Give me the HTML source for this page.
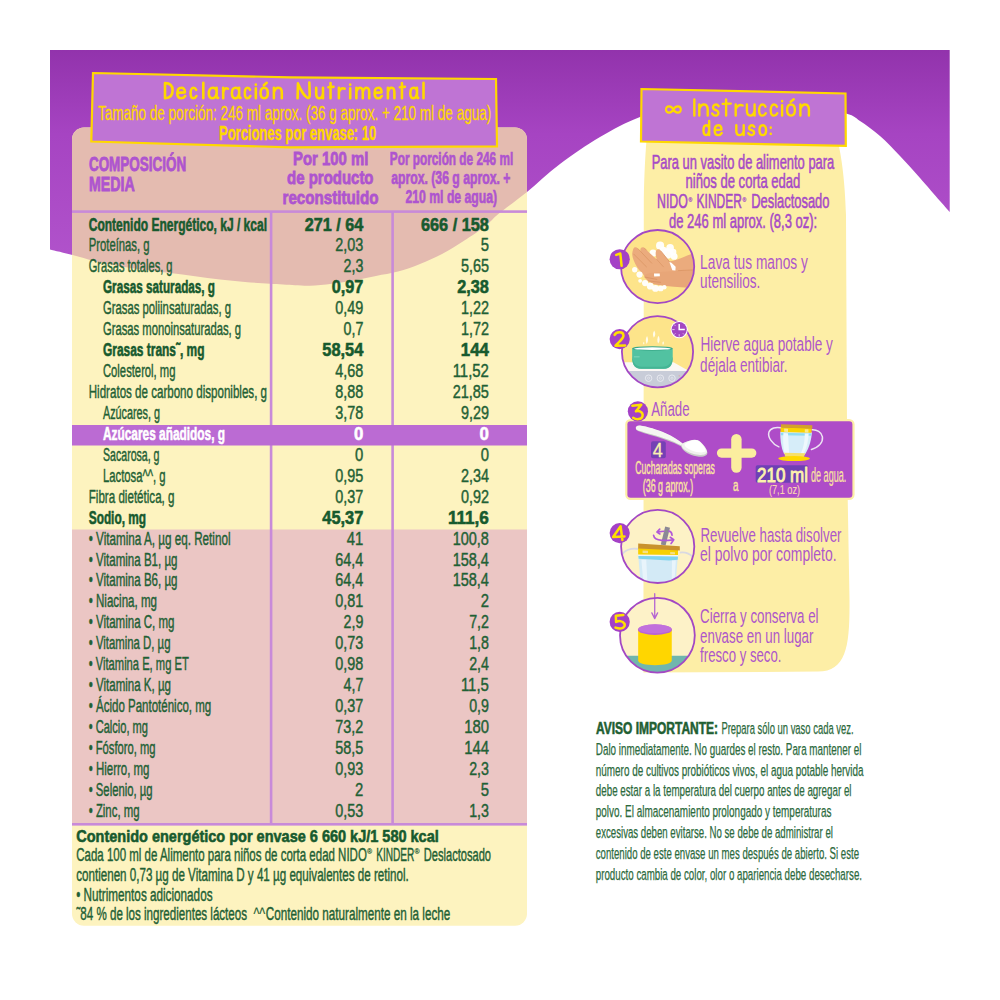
<!DOCTYPE html>
<html><head><meta charset="utf-8"><title>Declaración Nutrimental</title>
<style>html,body{margin:0;padding:0;background:#fff}svg{display:block}</style></head>
<body>
<svg width="1000" height="1000" viewBox="0 0 1000 1000" font-family='"Liberation Sans", sans-serif'>
<defs>
<linearGradient id="gp" gradientUnits="userSpaceOnUse" x1="0" y1="50" x2="0" y2="290"><stop offset="0" stop-color="#9233ac"/><stop offset="0.35" stop-color="#a644c2"/><stop offset="1" stop-color="#b356cd"/></linearGradient>
<clipPath id="cpL"><rect x="72" y="127.5" width="455" height="798.3" rx="12" ry="12"/></clipPath>
</defs>
<rect width="1000" height="1000" fill="#fff"/>
<path d="M50,50 L50,249.5 C53.8,250.4 65.0,253.1 72.5,255.0 C80.0,256.9 87.1,259.3 95.0,261.2 C102.9,263.1 111.7,264.7 120.0,266.2 C128.3,267.7 136.7,268.9 145.0,270.0 C153.3,271.1 161.7,272.0 170.0,273.0 C178.3,274.0 186.7,275.1 195.0,276.2 C203.3,277.3 211.7,278.5 220.0,279.5 C228.3,280.5 236.7,281.3 245.0,282.0 C253.3,282.7 261.7,283.3 270.0,283.8 C278.3,284.3 288.3,284.9 295.0,285.2 C301.7,285.5 303.8,285.9 310.0,285.7 C316.2,285.4 324.7,284.6 332.0,283.7 C339.3,282.8 346.7,281.7 354.0,280.4 C361.3,279.1 368.7,277.5 376.0,276.0 C383.3,274.5 390.7,273.6 398.0,271.6 C405.3,269.6 412.7,266.8 420.0,263.9 C427.3,261.0 434.7,257.9 442.0,254.0 C449.3,250.2 456.7,245.6 464.0,240.8 C471.3,236.0 480.1,230.0 486.0,225.4 C491.9,220.8 492.4,218.9 499.2,213.3 C506.0,207.7 516.9,200.2 527.0,192.0 C537.1,183.8 547.8,173.2 560.0,164.0 C572.2,154.8 586.7,144.8 600.0,137.0 C613.3,129.2 625.0,122.7 640.0,117.0 C655.0,111.3 672.5,106.0 690.0,103.0 C707.5,100.0 726.7,98.9 745.0,99.0 C763.3,99.1 783.2,101.1 800.0,103.5 C816.8,105.9 836.0,110.7 846.0,113.6 C856.0,116.5 854.3,117.3 860.0,121.0 C865.7,124.7 873.3,130.2 880.0,136.0 C886.7,141.8 893.3,149.0 900.0,156.0 C906.7,163.0 913.3,170.5 920.0,178.0 C926.7,185.5 935.0,195.3 940.0,201.0 C945.0,206.7 948.1,210.2 949.7,212.0 L949.7,50 Z" fill="url(#gp)"/>

<rect x="72" y="127.5" width="455" height="798.3" rx="12" ry="12" fill="#fdf3bf"/>
<g clip-path="url(#cpL)"><path d="M50,50 L50,249.5 C53.8,250.4 65.0,253.1 72.5,255.0 C80.0,256.9 87.1,259.3 95.0,261.2 C102.9,263.1 111.7,264.7 120.0,266.2 C128.3,267.7 136.7,268.9 145.0,270.0 C153.3,271.1 161.7,272.0 170.0,273.0 C178.3,274.0 186.7,275.1 195.0,276.2 C203.3,277.3 211.7,278.5 220.0,279.5 C228.3,280.5 236.7,281.3 245.0,282.0 C253.3,282.7 261.7,283.3 270.0,283.8 C278.3,284.3 288.3,284.9 295.0,285.2 C301.7,285.5 303.8,285.9 310.0,285.7 C316.2,285.4 324.7,284.6 332.0,283.7 C339.3,282.8 346.7,281.7 354.0,280.4 C361.3,279.1 368.7,277.5 376.0,276.0 C383.3,274.5 390.7,273.6 398.0,271.6 C405.3,269.6 412.7,266.8 420.0,263.9 C427.3,261.0 434.7,257.9 442.0,254.0 C449.3,250.2 456.7,245.6 464.0,240.8 C471.3,236.0 480.1,230.0 486.0,225.4 C491.9,220.8 492.4,218.9 499.2,213.3 C506.0,207.7 516.9,200.2 527.0,192.0 C537.1,183.8 547.8,173.2 560.0,164.0 C572.2,154.8 586.7,144.8 600.0,137.0 C613.3,129.2 625.0,122.7 640.0,117.0 C655.0,111.3 672.5,106.0 690.0,103.0 C707.5,100.0 726.7,98.9 745.0,99.0 C763.3,99.1 783.2,101.1 800.0,103.5 C816.8,105.9 836.0,110.7 846.0,113.6 C856.0,116.5 854.3,117.3 860.0,121.0 C865.7,124.7 873.3,130.2 880.0,136.0 C886.7,141.8 893.3,149.0 900.0,156.0 C906.7,163.0 913.3,170.5 920.0,178.0 C926.7,185.5 935.0,195.3 940.0,201.0 C945.0,206.7 948.1,210.2 949.7,212.0 L949.7,50 Z" fill="#e4bbb0"/>
<rect x="72" y="529.5" width="455" height="294.5" fill="#ebc6c4"/>
</g>
<rect x="72" y="210.3" width="455" height="2.6" fill="#c88ad9"/>
<rect x="72" y="823" width="455" height="2.6" fill="#c88ad9"/>
<rect x="269.8" y="211" width="2.6" height="613" fill="#c88ad9"/>
<rect x="391.3" y="211" width="2.6" height="613" fill="#c88ad9"/>
<rect x="72" y="425" width="455" height="20.5" fill="#bb6bd3"/>
<path d="M93,73 L290,77.3 L496,79 L497,146.3 L290,147.3 L91.3,141.5 Z" fill="#bf74d4" stroke="#ffd800" stroke-width="2.2" stroke-linejoin="miter"/>
<path d="M165.00,83.10 L165.00,98.20 M165.00,83.10 C170.70,83.10 172.60,86.10 172.60,90.31 C172.60,95.04 170.32,98.20 165.00,98.20 M177.62,92.83 L184.88,92.36 C185.20,89.05 183.23,87.63 181.25,87.79 C178.49,87.79 177.30,90.63 177.30,93.47 C177.30,96.62 178.88,98.20 181.25,98.20 C183.23,98.20 184.41,97.25 185.20,95.99 M196.11,89.84 C195.53,88.42 194.66,87.79 193.50,87.79 C191.76,87.79 190.60,90.31 190.60,93.15 C190.60,96.31 191.76,98.20 193.50,98.20 C194.78,98.20 195.70,97.41 196.40,95.99 M203.30,82.83 L203.30,98.20 M216.61,90.31 C215.78,88.42 214.38,87.79 212.99,87.79 C210.20,87.79 208.80,90.31 208.80,93.15 C208.80,96.31 210.20,98.20 212.52,98.20 C214.57,98.20 216.05,96.31 216.61,93.47 M216.61,87.79 L216.61,96.62 C216.61,97.73 217.36,98.20 218.10,97.88 M223.20,87.79 L223.20,98.20 M223.20,92.20 C223.91,89.52 225.55,87.20 227.90,88.73 M239.12,90.31 C238.35,88.42 237.06,87.79 235.77,87.79 C233.19,87.79 231.90,90.31 231.90,93.15 C231.90,96.31 233.19,98.20 235.34,98.20 C237.23,98.20 238.61,96.31 239.12,93.47 M239.12,87.79 L239.12,96.62 C239.12,97.73 239.81,98.20 240.50,97.88 M250.03,89.84 C249.47,88.42 248.65,87.79 247.55,87.79 C245.90,87.79 244.80,90.31 244.80,93.15 C244.80,96.31 245.90,98.20 247.55,98.20 C248.76,98.20 249.64,97.41 250.30,95.99 M255.81,88.42 L255.81,98.20 M255.81,84.74 L255.81,84.47 M264.20,87.79 C261.68,87.79 260.60,90.31 260.60,92.99 C260.60,95.99 261.90,98.20 264.20,98.20 C266.50,98.20 267.80,95.99 267.80,92.99 C267.80,90.31 266.72,87.79 264.20,87.79 Z M263.84,85.28 L266.72,82.83 M273.90,87.79 L273.90,98.20 M273.90,91.89 C275.09,89.05 277.06,87.47 278.64,87.79 C281.01,88.10 281.80,90.31 281.80,92.68 L281.80,98.20" fill="none" stroke="#ffd800" stroke-width="2.6" stroke-linecap="round" stroke-linejoin="round"/>
<path d="M297.60,98.20 L297.96,83.37 C300.02,88.73 304.25,96.31 307.52,97.88 C309.10,98.52 309.70,96.62 309.70,95.04 L309.34,82.55 M316.20,87.79 L316.20,93.47 C316.20,96.62 317.56,98.20 319.26,98.20 C321.30,98.20 322.66,95.83 323.00,93.47 M323.00,87.79 L323.00,98.20 M330.54,83.10 L330.54,98.20 M328.40,87.20 L333.50,86.92 M338.90,87.79 L338.90,98.20 M338.90,92.20 C339.77,89.52 341.80,87.20 344.70,88.73 M350.20,88.42 L350.20,98.20 M350.20,84.74 L350.20,84.47 M356.40,87.79 L356.40,98.20 M356.40,91.57 C357.42,89.05 358.96,87.63 360.24,87.79 C362.16,87.94 362.80,90.31 362.80,92.68 L362.80,98.20 M362.80,91.57 C363.82,89.05 365.36,87.63 366.64,87.79 C368.56,87.94 369.20,90.31 369.20,92.68 L369.20,98.20 M374.89,92.83 L381.51,92.36 C381.80,89.05 380.00,87.63 378.20,87.79 C375.68,87.79 374.60,90.63 374.60,93.47 C374.60,96.62 376.04,98.20 378.20,98.20 C380.00,98.20 381.08,97.25 381.80,95.99 M387.90,87.79 L387.90,98.20 M387.90,91.89 C388.88,89.05 390.50,87.47 391.80,87.79 C393.75,88.10 394.40,90.31 394.40,92.68 L394.40,98.20 M401.94,83.10 L401.94,98.20 M399.80,87.20 L404.90,86.92 M416.94,90.31 C416.23,88.42 415.04,87.79 413.86,87.79 C411.49,87.79 410.30,90.31 410.30,93.15 C410.30,96.31 411.49,98.20 413.46,98.20 C415.20,98.20 416.46,96.31 416.94,93.47 M416.94,87.79 L416.94,96.62 C416.94,97.73 417.57,98.20 418.20,97.88 M423.50,82.83 L423.50,98.20" fill="none" stroke="#ffd800" stroke-width="2.6" stroke-linecap="round" stroke-linejoin="round"/>
<text x="98.00" y="119.60" font-size="20.6" fill="#ffd800" stroke="#ffd800" stroke-width="0.3" textLength="393.20" lengthAdjust="spacingAndGlyphs">Tamaño de porción: 246 ml aprox. (36 g aprox. + 210 ml de agua)</text>
<text x="219.00" y="139.70" font-size="20" fill="#ffd800" font-weight="bold" stroke="#ffd800" stroke-width="0.4" textLength="157.20" lengthAdjust="spacingAndGlyphs">Porciones por envase: 10</text>
<text x="88.90" y="171.40" font-size="19.4" fill="#ae54cf" font-weight="bold" stroke="#ae54cf" stroke-width="0.8" textLength="97.40" lengthAdjust="spacingAndGlyphs">COMPOSICIÓN</text>
<text x="88.90" y="190.80" font-size="19.4" fill="#ae54cf" font-weight="bold" stroke="#ae54cf" stroke-width="0.8" textLength="45.80" lengthAdjust="spacingAndGlyphs">MEDIA</text>
<text x="293.00" y="164.80" font-size="19.2" fill="#ae54cf" font-weight="bold" stroke="#ae54cf" stroke-width="0.8" textLength="75.30" lengthAdjust="spacingAndGlyphs">Por 100 ml</text>
<text x="287.10" y="184.10" font-size="19.2" fill="#ae54cf" font-weight="bold" stroke="#ae54cf" stroke-width="0.8" textLength="86.40" lengthAdjust="spacingAndGlyphs">de producto</text>
<text x="282.50" y="203.60" font-size="19.2" fill="#ae54cf" font-weight="bold" stroke="#ae54cf" stroke-width="0.8" textLength="96.00" lengthAdjust="spacingAndGlyphs">reconstituido</text>
<text x="389.80" y="164.70" font-size="19.2" fill="#ae54cf" font-weight="bold" stroke="#ae54cf" stroke-width="0.7" textLength="123.40" lengthAdjust="spacingAndGlyphs">Por porción de 246 ml</text>
<text x="391.20" y="184.20" font-size="19.2" fill="#ae54cf" font-weight="bold" stroke="#ae54cf" stroke-width="0.7" textLength="119.20" lengthAdjust="spacingAndGlyphs">aprox. (36 g aprox. +</text>
<text x="405.50" y="203.30" font-size="19.2" fill="#ae54cf" font-weight="bold" stroke="#ae54cf" stroke-width="0.7" textLength="91.60" lengthAdjust="spacingAndGlyphs">210 ml de agua)</text>
<text x="88.75" y="230.50" font-size="18.8" fill="#175a2e" font-weight="bold" stroke="#175a2e" stroke-width="0.6" textLength="178.25" lengthAdjust="spacingAndGlyphs">Contenido Energético, kJ / kcal</text>
<text x="304.80" y="230.50" font-size="18.8" fill="#175a2e" font-weight="bold" stroke="#175a2e" stroke-width="0.6" textLength="58.50" lengthAdjust="spacingAndGlyphs">271 / 64</text>
<text x="420.90" y="230.50" font-size="18.8" fill="#175a2e" font-weight="bold" stroke="#175a2e" stroke-width="0.6" textLength="68.00" lengthAdjust="spacingAndGlyphs">666 / 158</text>
<text x="88.75" y="251.44" font-size="18.8" fill="#1f6135" stroke="#1f6135" stroke-width="0.45" textLength="60.75" lengthAdjust="spacingAndGlyphs">Proteínas, g</text>
<text x="335.30" y="251.44" font-size="18.8" fill="#1f6135" stroke="#1f6135" stroke-width="0.45" textLength="28.00" lengthAdjust="spacingAndGlyphs">2,03</text>
<text x="480.65" y="251.44" font-size="18.8" fill="#1f6135" stroke="#1f6135" stroke-width="0.45" textLength="8.25" lengthAdjust="spacingAndGlyphs">5</text>
<text x="88.75" y="272.38" font-size="18.8" fill="#1f6135" stroke="#1f6135" stroke-width="0.45" textLength="83.75" lengthAdjust="spacingAndGlyphs">Grasas totales, g</text>
<text x="343.55" y="272.38" font-size="18.8" fill="#1f6135" stroke="#1f6135" stroke-width="0.45" textLength="19.75" lengthAdjust="spacingAndGlyphs">2,3</text>
<text x="460.90" y="272.38" font-size="18.8" fill="#1f6135" stroke="#1f6135" stroke-width="0.45" textLength="28.00" lengthAdjust="spacingAndGlyphs">5,65</text>
<text x="103.00" y="293.32" font-size="18.8" fill="#175a2e" font-weight="bold" stroke="#175a2e" stroke-width="0.6" textLength="112.00" lengthAdjust="spacingAndGlyphs">Grasas saturadas, g</text>
<text x="331.65" y="293.32" font-size="18.8" fill="#175a2e" font-weight="bold" stroke="#175a2e" stroke-width="0.6" textLength="31.65" lengthAdjust="spacingAndGlyphs">0,97</text>
<text x="457.25" y="293.32" font-size="18.8" fill="#175a2e" font-weight="bold" stroke="#175a2e" stroke-width="0.6" textLength="31.65" lengthAdjust="spacingAndGlyphs">2,38</text>
<text x="103.00" y="314.26" font-size="18.8" fill="#1f6135" stroke="#1f6135" stroke-width="0.45" textLength="128.00" lengthAdjust="spacingAndGlyphs">Grasas poliinsaturadas, g</text>
<text x="335.30" y="314.26" font-size="18.8" fill="#1f6135" stroke="#1f6135" stroke-width="0.45" textLength="28.00" lengthAdjust="spacingAndGlyphs">0,49</text>
<text x="460.90" y="314.26" font-size="18.8" fill="#1f6135" stroke="#1f6135" stroke-width="0.45" textLength="28.00" lengthAdjust="spacingAndGlyphs">1,22</text>
<text x="103.00" y="335.20" font-size="18.8" fill="#1f6135" stroke="#1f6135" stroke-width="0.45" textLength="138.00" lengthAdjust="spacingAndGlyphs">Grasas monoinsaturadas, g</text>
<text x="343.55" y="335.20" font-size="18.8" fill="#1f6135" stroke="#1f6135" stroke-width="0.45" textLength="19.75" lengthAdjust="spacingAndGlyphs">0,7</text>
<text x="460.90" y="335.20" font-size="18.8" fill="#1f6135" stroke="#1f6135" stroke-width="0.45" textLength="28.00" lengthAdjust="spacingAndGlyphs">1,72</text>
<text x="103.00" y="356.14" font-size="18.8" fill="#175a2e" font-weight="bold" stroke="#175a2e" stroke-width="0.6" textLength="101.50" lengthAdjust="spacingAndGlyphs">Grasas trans˜, mg</text>
<text x="322.30" y="356.14" font-size="18.8" fill="#175a2e" font-weight="bold" stroke="#175a2e" stroke-width="0.6" textLength="41.00" lengthAdjust="spacingAndGlyphs">58,54</text>
<text x="460.85" y="356.14" font-size="18.8" fill="#175a2e" font-weight="bold" stroke="#175a2e" stroke-width="0.6" textLength="28.05" lengthAdjust="spacingAndGlyphs">144</text>
<text x="103.00" y="377.08" font-size="18.8" fill="#1f6135" stroke="#1f6135" stroke-width="0.45" textLength="72.50" lengthAdjust="spacingAndGlyphs">Colesterol, mg</text>
<text x="335.30" y="377.08" font-size="18.8" fill="#1f6135" stroke="#1f6135" stroke-width="0.45" textLength="28.00" lengthAdjust="spacingAndGlyphs">4,68</text>
<text x="452.65" y="377.08" font-size="18.8" fill="#1f6135" stroke="#1f6135" stroke-width="0.45" textLength="36.25" lengthAdjust="spacingAndGlyphs">11,52</text>
<text x="88.75" y="398.02" font-size="18.8" fill="#1f6135" stroke="#1f6135" stroke-width="0.45" textLength="178.25" lengthAdjust="spacingAndGlyphs">Hidratos de carbono disponibles, g</text>
<text x="335.30" y="398.02" font-size="18.8" fill="#1f6135" stroke="#1f6135" stroke-width="0.45" textLength="28.00" lengthAdjust="spacingAndGlyphs">8,88</text>
<text x="452.65" y="398.02" font-size="18.8" fill="#1f6135" stroke="#1f6135" stroke-width="0.45" textLength="36.25" lengthAdjust="spacingAndGlyphs">21,85</text>
<text x="103.00" y="418.96" font-size="18.8" fill="#1f6135" stroke="#1f6135" stroke-width="0.45" textLength="57.00" lengthAdjust="spacingAndGlyphs">Azúcares, g</text>
<text x="335.30" y="418.96" font-size="18.8" fill="#1f6135" stroke="#1f6135" stroke-width="0.45" textLength="28.00" lengthAdjust="spacingAndGlyphs">3,78</text>
<text x="460.90" y="418.96" font-size="18.8" fill="#1f6135" stroke="#1f6135" stroke-width="0.45" textLength="28.00" lengthAdjust="spacingAndGlyphs">9,29</text>
<text x="103.00" y="439.90" font-size="18.8" fill="#ffffff" font-weight="bold" stroke="#ffffff" stroke-width="0.6" textLength="122.00" lengthAdjust="spacingAndGlyphs">Azúcares añadidos, g</text>
<text x="353.95" y="439.90" font-size="18.8" fill="#ffffff" font-weight="bold" stroke="#ffffff" stroke-width="0.6" textLength="9.35" lengthAdjust="spacingAndGlyphs">0</text>
<text x="479.55" y="439.90" font-size="18.8" fill="#ffffff" font-weight="bold" stroke="#ffffff" stroke-width="0.6" textLength="9.35" lengthAdjust="spacingAndGlyphs">0</text>
<text x="103.00" y="460.84" font-size="18.8" fill="#1f6135" stroke="#1f6135" stroke-width="0.45" textLength="56.50" lengthAdjust="spacingAndGlyphs">Sacarosa, g</text>
<text x="355.05" y="460.84" font-size="18.8" fill="#1f6135" stroke="#1f6135" stroke-width="0.45" textLength="8.25" lengthAdjust="spacingAndGlyphs">0</text>
<text x="480.65" y="460.84" font-size="18.8" fill="#1f6135" stroke="#1f6135" stroke-width="0.45" textLength="8.25" lengthAdjust="spacingAndGlyphs">0</text>
<text x="103.00" y="481.78" font-size="18.8" fill="#1f6135" stroke="#1f6135" stroke-width="0.45" textLength="62.50" lengthAdjust="spacingAndGlyphs">Lactosa^^, g</text>
<text x="335.30" y="481.78" font-size="18.8" fill="#1f6135" stroke="#1f6135" stroke-width="0.45" textLength="28.00" lengthAdjust="spacingAndGlyphs">0,95</text>
<text x="460.90" y="481.78" font-size="18.8" fill="#1f6135" stroke="#1f6135" stroke-width="0.45" textLength="28.00" lengthAdjust="spacingAndGlyphs">2,34</text>
<text x="88.75" y="502.72" font-size="18.8" fill="#1f6135" stroke="#1f6135" stroke-width="0.45" textLength="85.75" lengthAdjust="spacingAndGlyphs">Fibra dietética, g</text>
<text x="335.30" y="502.72" font-size="18.8" fill="#1f6135" stroke="#1f6135" stroke-width="0.45" textLength="28.00" lengthAdjust="spacingAndGlyphs">0,37</text>
<text x="460.90" y="502.72" font-size="18.8" fill="#1f6135" stroke="#1f6135" stroke-width="0.45" textLength="28.00" lengthAdjust="spacingAndGlyphs">0,92</text>
<text x="88.75" y="523.66" font-size="18.8" fill="#175a2e" font-weight="bold" stroke="#175a2e" stroke-width="0.6" textLength="57.25" lengthAdjust="spacingAndGlyphs">Sodio, mg</text>
<text x="322.30" y="523.66" font-size="18.8" fill="#175a2e" font-weight="bold" stroke="#175a2e" stroke-width="0.6" textLength="41.00" lengthAdjust="spacingAndGlyphs">45,37</text>
<text x="447.90" y="523.66" font-size="18.8" fill="#175a2e" font-weight="bold" stroke="#175a2e" stroke-width="0.6" textLength="41.00" lengthAdjust="spacingAndGlyphs">111,6</text>
<text x="88.75" y="544.60" font-size="18.8" fill="#1f6135" stroke="#1f6135" stroke-width="0.45" textLength="141.75" lengthAdjust="spacingAndGlyphs">• Vitamina A, µg eq. Retinol</text>
<text x="346.80" y="544.60" font-size="18.8" fill="#1f6135" stroke="#1f6135" stroke-width="0.45" textLength="16.50" lengthAdjust="spacingAndGlyphs">41</text>
<text x="452.65" y="544.60" font-size="18.8" fill="#1f6135" stroke="#1f6135" stroke-width="0.45" textLength="36.25" lengthAdjust="spacingAndGlyphs">100,8</text>
<text x="88.75" y="565.54" font-size="18.8" fill="#1f6135" stroke="#1f6135" stroke-width="0.45" textLength="88.75" lengthAdjust="spacingAndGlyphs">• Vitamina B1, µg</text>
<text x="335.30" y="565.54" font-size="18.8" fill="#1f6135" stroke="#1f6135" stroke-width="0.45" textLength="28.00" lengthAdjust="spacingAndGlyphs">64,4</text>
<text x="452.65" y="565.54" font-size="18.8" fill="#1f6135" stroke="#1f6135" stroke-width="0.45" textLength="36.25" lengthAdjust="spacingAndGlyphs">158,4</text>
<text x="88.75" y="586.48" font-size="18.8" fill="#1f6135" stroke="#1f6135" stroke-width="0.45" textLength="88.75" lengthAdjust="spacingAndGlyphs">• Vitamina B6, µg</text>
<text x="335.30" y="586.48" font-size="18.8" fill="#1f6135" stroke="#1f6135" stroke-width="0.45" textLength="28.00" lengthAdjust="spacingAndGlyphs">64,4</text>
<text x="452.65" y="586.48" font-size="18.8" fill="#1f6135" stroke="#1f6135" stroke-width="0.45" textLength="36.25" lengthAdjust="spacingAndGlyphs">158,4</text>
<text x="88.75" y="607.42" font-size="18.8" fill="#1f6135" stroke="#1f6135" stroke-width="0.45" textLength="68.25" lengthAdjust="spacingAndGlyphs">• Niacina, mg</text>
<text x="335.30" y="607.42" font-size="18.8" fill="#1f6135" stroke="#1f6135" stroke-width="0.45" textLength="28.00" lengthAdjust="spacingAndGlyphs">0,81</text>
<text x="480.65" y="607.42" font-size="18.8" fill="#1f6135" stroke="#1f6135" stroke-width="0.45" textLength="8.25" lengthAdjust="spacingAndGlyphs">2</text>
<text x="88.75" y="628.36" font-size="18.8" fill="#1f6135" stroke="#1f6135" stroke-width="0.45" textLength="85.75" lengthAdjust="spacingAndGlyphs">• Vitamina C, mg</text>
<text x="343.55" y="628.36" font-size="18.8" fill="#1f6135" stroke="#1f6135" stroke-width="0.45" textLength="19.75" lengthAdjust="spacingAndGlyphs">2,9</text>
<text x="469.15" y="628.36" font-size="18.8" fill="#1f6135" stroke="#1f6135" stroke-width="0.45" textLength="19.75" lengthAdjust="spacingAndGlyphs">7,2</text>
<text x="88.75" y="649.30" font-size="18.8" fill="#1f6135" stroke="#1f6135" stroke-width="0.45" textLength="81.75" lengthAdjust="spacingAndGlyphs">• Vitamina D, µg</text>
<text x="335.30" y="649.30" font-size="18.8" fill="#1f6135" stroke="#1f6135" stroke-width="0.45" textLength="28.00" lengthAdjust="spacingAndGlyphs">0,73</text>
<text x="469.15" y="649.30" font-size="18.8" fill="#1f6135" stroke="#1f6135" stroke-width="0.45" textLength="19.75" lengthAdjust="spacingAndGlyphs">1,8</text>
<text x="88.75" y="670.24" font-size="18.8" fill="#1f6135" stroke="#1f6135" stroke-width="0.45" textLength="100.00" lengthAdjust="spacingAndGlyphs">• Vitamina E, mg ET</text>
<text x="335.30" y="670.24" font-size="18.8" fill="#1f6135" stroke="#1f6135" stroke-width="0.45" textLength="28.00" lengthAdjust="spacingAndGlyphs">0,98</text>
<text x="469.15" y="670.24" font-size="18.8" fill="#1f6135" stroke="#1f6135" stroke-width="0.45" textLength="19.75" lengthAdjust="spacingAndGlyphs">2,4</text>
<text x="88.75" y="691.18" font-size="18.8" fill="#1f6135" stroke="#1f6135" stroke-width="0.45" textLength="82.25" lengthAdjust="spacingAndGlyphs">• Vitamina K, µg</text>
<text x="343.55" y="691.18" font-size="18.8" fill="#1f6135" stroke="#1f6135" stroke-width="0.45" textLength="19.75" lengthAdjust="spacingAndGlyphs">4,7</text>
<text x="460.90" y="691.18" font-size="18.8" fill="#1f6135" stroke="#1f6135" stroke-width="0.45" textLength="28.00" lengthAdjust="spacingAndGlyphs">11,5</text>
<text x="88.75" y="712.12" font-size="18.8" fill="#1f6135" stroke="#1f6135" stroke-width="0.45" textLength="122.50" lengthAdjust="spacingAndGlyphs">• Ácido Pantoténico, mg</text>
<text x="335.30" y="712.12" font-size="18.8" fill="#1f6135" stroke="#1f6135" stroke-width="0.45" textLength="28.00" lengthAdjust="spacingAndGlyphs">0,37</text>
<text x="469.15" y="712.12" font-size="18.8" fill="#1f6135" stroke="#1f6135" stroke-width="0.45" textLength="19.75" lengthAdjust="spacingAndGlyphs">0,9</text>
<text x="88.75" y="733.06" font-size="18.8" fill="#1f6135" stroke="#1f6135" stroke-width="0.45" textLength="59.25" lengthAdjust="spacingAndGlyphs">• Calcio, mg</text>
<text x="335.30" y="733.06" font-size="18.8" fill="#1f6135" stroke="#1f6135" stroke-width="0.45" textLength="28.00" lengthAdjust="spacingAndGlyphs">73,2</text>
<text x="464.15" y="733.06" font-size="18.8" fill="#1f6135" stroke="#1f6135" stroke-width="0.45" textLength="24.75" lengthAdjust="spacingAndGlyphs">180</text>
<text x="88.75" y="754.00" font-size="18.8" fill="#1f6135" stroke="#1f6135" stroke-width="0.45" textLength="66.75" lengthAdjust="spacingAndGlyphs">• Fósforo, mg</text>
<text x="335.30" y="754.00" font-size="18.8" fill="#1f6135" stroke="#1f6135" stroke-width="0.45" textLength="28.00" lengthAdjust="spacingAndGlyphs">58,5</text>
<text x="464.15" y="754.00" font-size="18.8" fill="#1f6135" stroke="#1f6135" stroke-width="0.45" textLength="24.75" lengthAdjust="spacingAndGlyphs">144</text>
<text x="88.75" y="774.94" font-size="18.8" fill="#1f6135" stroke="#1f6135" stroke-width="0.45" textLength="60.75" lengthAdjust="spacingAndGlyphs">• Hierro, mg</text>
<text x="335.30" y="774.94" font-size="18.8" fill="#1f6135" stroke="#1f6135" stroke-width="0.45" textLength="28.00" lengthAdjust="spacingAndGlyphs">0,93</text>
<text x="469.15" y="774.94" font-size="18.8" fill="#1f6135" stroke="#1f6135" stroke-width="0.45" textLength="19.75" lengthAdjust="spacingAndGlyphs">2,3</text>
<text x="88.75" y="795.88" font-size="18.8" fill="#1f6135" stroke="#1f6135" stroke-width="0.45" textLength="63.75" lengthAdjust="spacingAndGlyphs">• Selenio, µg</text>
<text x="355.05" y="795.88" font-size="18.8" fill="#1f6135" stroke="#1f6135" stroke-width="0.45" textLength="8.25" lengthAdjust="spacingAndGlyphs">2</text>
<text x="480.65" y="795.88" font-size="18.8" fill="#1f6135" stroke="#1f6135" stroke-width="0.45" textLength="8.25" lengthAdjust="spacingAndGlyphs">5</text>
<text x="88.75" y="816.82" font-size="18.8" fill="#1f6135" stroke="#1f6135" stroke-width="0.45" textLength="50.75" lengthAdjust="spacingAndGlyphs">• Zinc, mg</text>
<text x="335.30" y="816.82" font-size="18.8" fill="#1f6135" stroke="#1f6135" stroke-width="0.45" textLength="28.00" lengthAdjust="spacingAndGlyphs">0,53</text>
<text x="469.15" y="816.82" font-size="18.8" fill="#1f6135" stroke="#1f6135" stroke-width="0.45" textLength="19.75" lengthAdjust="spacingAndGlyphs">1,3</text>
<text x="76.25" y="842.00" font-size="17" fill="#175a2e" font-weight="bold" stroke="#175a2e" stroke-width="0.6" textLength="362.50" lengthAdjust="spacingAndGlyphs">Contenido energético por envase 6 660 kJ/1 580 kcal</text>
<text x="76.25" y="861.40" font-size="18.8" fill="#1f6135" stroke="#1f6135" stroke-width="0.45" textLength="290.60" lengthAdjust="spacingAndGlyphs">Cada 100 ml de Alimento para niños de corta edad NIDO</text>
<text x="366.90" y="854.30" font-size="7.5" fill="#1f6135" stroke="#1f6135" stroke-width="0.2" textLength="5.00" lengthAdjust="spacingAndGlyphs">®</text>
<text x="376.20" y="861.40" font-size="18.8" fill="#1f6135" stroke="#1f6135" stroke-width="0.45" textLength="38.20" lengthAdjust="spacingAndGlyphs">KINDER</text>
<text x="414.60" y="854.30" font-size="7.5" fill="#1f6135" stroke="#1f6135" stroke-width="0.2" textLength="5.00" lengthAdjust="spacingAndGlyphs">®</text>
<text x="423.80" y="861.40" font-size="18.8" fill="#1f6135" stroke="#1f6135" stroke-width="0.45" textLength="67.20" lengthAdjust="spacingAndGlyphs">Deslactosado</text>
<text x="76.25" y="880.90" font-size="18.8" fill="#1f6135" stroke="#1f6135" stroke-width="0.45" textLength="332.50" lengthAdjust="spacingAndGlyphs">contienen 0,73 µg de Vitamina D y 41 µg equivalentes de retinol.</text>
<text x="76.25" y="901.00" font-size="18.8" fill="#1f6135" stroke="#1f6135" stroke-width="0.45" textLength="136.25" lengthAdjust="spacingAndGlyphs">• Nutrimentos adicionados</text>
<text x="76.50" y="920.00" font-size="18.8" fill="#1f6135" stroke="#1f6135" stroke-width="0.45" textLength="170.50" lengthAdjust="spacingAndGlyphs">˜84 % de los ingredientes lácteos</text>
<text x="253.40" y="920.00" font-size="18.8" fill="#1f6135" stroke="#1f6135" stroke-width="0.2" textLength="11.80" lengthAdjust="spacingAndGlyphs">^^</text>
<text x="265.70" y="920.00" font-size="18.8" fill="#1f6135" stroke="#1f6135" stroke-width="0.45" textLength="184.60" lengthAdjust="spacingAndGlyphs">Contenido naturalmente en la leche</text>
<path d="M647,135 L836,135 C841,150 845,180 846,215 L846.4,300 L847.2,470 L849.5,600 C849.8,645 847,671.5 818,671.6 L643.4,672.6 L643.8,200 C644.2,175 645.5,150 647,135 Z" fill="#fdeea6"/>
<path d="M641.5,89 L845.5,93.5 L845.8,145.8 L641,141.5 Z" fill="#bf74d4" stroke="#ffd800" stroke-width="2.2"/>
<path d="M694.35,99.50 L694.35,115.60 M699.30,104.50 L699.30,115.60 M699.30,108.87 C700.56,105.84 702.66,104.16 704.34,104.50 C706.86,104.83 707.70,107.19 707.70,109.71 L707.70,115.60 M718.57,106.18 C717.56,104.50 715.89,104.16 714.55,104.83 C712.87,105.84 712.54,108.53 714.21,109.37 L716.89,110.55 C718.90,111.56 718.90,114.59 716.89,115.43 C715.22,115.94 713.21,115.10 712.20,113.58 M726.10,99.50 L726.10,115.60 M722.70,103.87 L730.80,103.58 M735.70,104.50 L735.70,115.60 M735.70,109.21 C736.75,106.35 739.20,103.87 742.70,105.51 M746.90,104.50 L746.90,110.55 C746.90,113.92 748.44,115.60 750.37,115.60 C752.68,115.60 754.22,113.08 754.60,110.55 M754.60,104.50 L754.60,115.60 M765.47,106.68 C764.80,105.17 763.79,104.50 762.45,104.50 C760.44,104.50 759.10,107.19 759.10,110.22 C759.10,113.58 760.44,115.60 762.45,115.60 C763.92,115.60 765.00,114.76 765.80,113.24 M776.97,106.68 C776.31,105.17 775.32,104.50 774.00,104.50 C772.02,104.50 770.70,107.19 770.70,110.22 C770.70,113.58 772.02,115.60 774.00,115.60 C775.45,115.60 776.51,114.76 777.30,113.24 M782.11,105.17 L782.11,115.60 M782.11,101.25 L782.11,100.96 M791.00,104.50 C788.27,104.50 787.10,107.19 787.10,110.05 C787.10,113.24 788.50,115.60 791.00,115.60 C793.50,115.60 794.90,113.24 794.90,110.05 C794.90,107.19 793.73,104.50 791.00,104.50 Z M790.61,101.83 L793.73,99.21 M800.40,104.50 L800.40,115.60 M800.40,108.87 C801.68,105.84 803.80,104.16 805.50,104.50 C808.05,104.83 808.90,107.19 808.90,109.71 L808.90,115.60" fill="none" stroke="#ffd800" stroke-width="2.4" stroke-linecap="round" stroke-linejoin="round"/>
<path d="M709.04,127.68 C708.41,125.90 707.41,125.31 706.34,125.31 C704.45,125.31 703.50,127.68 703.50,130.35 C703.50,133.32 704.45,135.10 706.02,135.10 C707.60,135.10 708.67,133.32 709.04,130.65 M709.17,120.90 L709.17,135.10 M714.98,130.05 L721.42,129.61 C721.70,126.49 719.95,125.16 718.20,125.31 C715.75,125.31 714.70,127.98 714.70,130.65 C714.70,133.62 716.10,135.10 718.20,135.10 C719.95,135.10 721.00,134.21 721.70,133.02 M736.30,125.31 L736.30,130.65 C736.30,133.62 737.78,135.10 739.63,135.10 C741.85,135.10 743.33,132.87 743.70,130.65 M743.70,125.31 L743.70,135.10 M754.28,126.79 C753.34,125.31 751.76,125.01 750.50,125.60 C748.93,126.49 748.62,128.87 750.19,129.61 L752.71,130.65 C754.60,131.54 754.60,134.21 752.71,134.95 C751.13,135.40 749.25,134.65 748.30,133.32 M762.80,125.31 C760.49,125.31 759.50,127.68 759.50,130.20 C759.50,133.02 760.69,135.10 762.80,135.10 C764.91,135.10 766.10,133.02 766.10,130.20 C766.10,127.68 765.11,125.31 762.80,125.31 Z M770.75,127.68 L770.75,127.38 M770.75,133.91 L770.75,133.62" fill="none" stroke="#ffd800" stroke-width="2.4" stroke-linecap="round" stroke-linejoin="round"/>
<path d="M673.4,109.5 C671.5,105.5 666,105.2 666,109.5 C666,113.8 671.5,113.5 673.4,109.5 C675.3,105.5 680.8,105.2 680.8,109.5 C680.8,113.8 675.3,113.5 673.4,109.5 Z" fill="none" stroke="#ffd800" stroke-width="2.2"/>
<text x="651.70" y="169.20" font-size="19.8" fill="#a64ac7" stroke="#a64ac7" stroke-width="0.55" textLength="182.60" lengthAdjust="spacingAndGlyphs">Para un vasito de alimento para</text>
<text x="685.50" y="188.40" font-size="19.8" fill="#a64ac7" stroke="#a64ac7" stroke-width="0.55" textLength="114.90" lengthAdjust="spacingAndGlyphs">niños de corta edad</text>
<text x="657.00" y="208.20" font-size="19.8" fill="#a64ac7" stroke="#a64ac7" stroke-width="0.55" textLength="30.80" lengthAdjust="spacingAndGlyphs">NIDO</text>
<text x="688.50" y="201.80" font-size="5.5" fill="#a64ac7" stroke="#a64ac7" stroke-width="0.2" textLength="3.80" lengthAdjust="spacingAndGlyphs">®</text>
<text x="696.60" y="208.20" font-size="19.8" fill="#a64ac7" stroke="#a64ac7" stroke-width="0.55" textLength="45.20" lengthAdjust="spacingAndGlyphs">KINDER</text>
<text x="742.50" y="201.80" font-size="5.5" fill="#a64ac7" stroke="#a64ac7" stroke-width="0.2" textLength="3.80" lengthAdjust="spacingAndGlyphs">®</text>
<text x="751.20" y="208.20" font-size="19.8" fill="#a64ac7" stroke="#a64ac7" stroke-width="0.55" textLength="78.30" lengthAdjust="spacingAndGlyphs">Deslactosado</text>
<text x="669.00" y="227.50" font-size="19.8" fill="#a64ac7" stroke="#a64ac7" stroke-width="0.55" textLength="148.20" lengthAdjust="spacingAndGlyphs">de 246 ml aprox. (8,3 oz):</text>
<clipPath id="c1"><circle cx="657.6" cy="266.6" r="36.6"/></clipPath>
<circle cx="657.6" cy="266.6" r="36.6" fill="#fde48a"/>
<g clip-path="url(#c1)">
<circle cx="660.11" cy="245.69" r="4.07" fill="#ffffff" opacity="0.95"/>
<circle cx="670.10" cy="247.91" r="3.85" fill="#ffffff" opacity="0.95"/>
<circle cx="667.88" cy="253.46" r="5.18" fill="#ffffff" opacity="0.95"/>
<circle cx="674.17" cy="256.42" r="3.40" fill="#ffffff" opacity="0.95"/>
<circle cx="653.08" cy="253.09" r="3.55" fill="#ffffff" opacity="0.95"/>
<circle cx="663.44" cy="250.50" r="3.70" fill="#ffffff" opacity="0.95"/>
<circle cx="673.06" cy="251.98" r="3.33" fill="#ffffff" opacity="0.95"/>
<path d="M633.10,249.39 C633.84,246.80 636.43,246.80 637.91,248.65 L640.50,251.39 C639.76,247.91 641.98,246.43 644.20,247.91 L656.78,259.53 C655.67,256.42 654.93,251.98 656.78,249.76 C658.26,248.43 660.48,249.39 661.22,251.39 L669.36,261.23 C673.80,261.60 681.20,257.90 695.26,252.35 L695.26,270.48 L678.24,270.85 L666.40,273.44 L653.08,276.40 L646.42,277.14 C641.24,273.44 636.06,266.78 634.21,261.60 C632.36,257.16 631.47,254.20 633.10,249.39 Z" fill="#ebab7d"/>
<path d="M637.91,248.65 L651.60,263.08 M633.84,254.20 L646.42,266.78 M644.20,247.91 L646.42,250.13" fill="none" stroke="#dd9868" stroke-width="0.9" stroke-linecap="round"/>
<path d="M656.78,259.53 L663.44,266.78 M661.22,251.39 L669.36,261.60" fill="none" stroke="#dd9868" stroke-width="0.8" stroke-linecap="round"/>
<path d="M644.20,275.29 C646.42,273.44 653.08,272.33 660.48,271.96 L678.24,270.63 L695.26,269.89 L695.26,288.24 L673.80,286.76 L663.44,285.65 C659.00,285.28 654.56,284.91 651.60,283.06 C647.90,281.21 644.20,278.25 644.20,275.29 Z" fill="#e8a678"/>
<path d="M644.94,277.14 L656.78,279.36 M647.90,280.84 L660.48,282.32 M678.24,270.63 L695.26,269.89" fill="none" stroke="#d99263" stroke-width="0.8" stroke-linecap="round"/>
<circle cx="634.73" cy="269.74" r="2.66" fill="#ffffff" opacity="0.95"/>
<circle cx="639.54" cy="274.55" r="3.11" fill="#ffffff" opacity="0.95"/>
<circle cx="640.13" cy="280.84" r="1.92" fill="#ffffff" opacity="0.95"/>
<circle cx="645.09" cy="283.06" r="3.11" fill="#ffffff" opacity="0.95"/>
<circle cx="650.27" cy="286.17" r="3.40" fill="#ffffff" opacity="0.95"/>
<circle cx="655.45" cy="288.39" r="3.40" fill="#ffffff" opacity="0.95"/>
<circle cx="660.63" cy="288.39" r="2.96" fill="#ffffff" opacity="0.95"/>
<circle cx="664.33" cy="287.20" r="2.22" fill="#ffffff" opacity="0.95"/>
<path d="M669.36,261.97 L671.43,262.71 L675.65,266.78 L675.43,270.48 L672.32,270.33 Z" fill="#fff"/>
<path d="M653.97,273.59 L659.74,273.59 L659.89,276.25 L654.19,276.40 Z" fill="#fff"/>
</g>
<circle cx="657.6" cy="266.6" r="36.6" fill="none" stroke="#a348c4" stroke-width="1.8"/>
<circle cx="619.7" cy="259.25" r="10.1" fill="#a441c6"/>
<path transform="translate(619.7,259.25)" d="M-3.5,-4.4 L0.6,-5.7 L1.9,6.6" fill="none" stroke="#ffe000" stroke-width="2.5" stroke-linejoin="round" stroke-linecap="round"/>
<text x="700.10" y="269.00" font-size="20.5" fill="#ad56ca" textLength="107.80" lengthAdjust="spacingAndGlyphs">Lava tus manos y</text>
<text x="700.10" y="288.40" font-size="20.5" fill="#ad56ca" textLength="60.30" lengthAdjust="spacingAndGlyphs">utensilios.</text>
<clipPath id="c2"><circle cx="657.5" cy="351.8" r="35.6"/></clipPath>
<circle cx="657.5" cy="351.8" r="35.6" fill="#fde48a"/>
<g clip-path="url(#c2)">
<path d="M618.00,362.36 L673.44,362.36 L691.20,372.20 L618.00,372.20 Z" fill="#fbf8f4"/>
<path d="M618.00,371.00 L696.00,371.00 L696.00,391.40 L618.00,391.40 Z" fill="#c8ccd8"/>
<circle cx="648.60" cy="378.20" r="3.24" fill="none" stroke="#e6e8ef" stroke-width="1"/>
<circle cx="648.60" cy="378.20" r="1.08" fill="none" stroke="#e6e8ef" stroke-width="0.7"/>
<circle cx="660.36" cy="378.20" r="3.24" fill="none" stroke="#e6e8ef" stroke-width="1"/>
<circle cx="660.36" cy="378.20" r="1.08" fill="none" stroke="#e6e8ef" stroke-width="0.7"/>
<circle cx="672.00" cy="378.20" r="3.24" fill="none" stroke="#e6e8ef" stroke-width="1"/>
<circle cx="672.00" cy="378.20" r="1.08" fill="none" stroke="#e6e8ef" stroke-width="0.7"/>
<circle cx="679.20" cy="375.80" r="0.60" fill="#e8a090"/>
<path d="M647.04,336.08 C648.48,338.85 648.48,341.62 646.61,344.00 C645.31,341.23 645.60,338.46 647.04,336.08 Z" fill="#fffdf0" opacity="0.95"/>
<path d="M654.24,330.56 C655.68,333.08 655.68,335.60 653.81,337.76 C652.51,335.24 652.80,332.72 654.24,330.56 Z" fill="#fffdf0" opacity="0.95"/>
<path d="M658.56,335.72 C660.00,338.41 660.00,341.10 658.13,343.40 C656.83,340.71 657.12,338.02 658.56,335.72 Z" fill="#fffdf0" opacity="0.95"/>
<path d="M663.24,341.36 C664.20,342.62 664.20,343.88 662.95,344.96 C662.09,343.70 662.28,342.44 663.24,341.36 Z" fill="#fffdf0" opacity="0.95"/>
<path d="M643.80,341.72 C644.52,342.73 644.52,343.74 643.58,344.60 C642.94,343.59 643.08,342.58 643.80,341.72 Z" fill="#fffdf0" opacity="0.95"/>
<path d="M632.16,348.44 L632.16,357.80 C632.16,365.60 635.40,368.84 641.40,368.84 L663.60,368.84 C669.60,368.84 672.72,365.60 672.72,357.80 L672.72,348.44 Z" fill="#52c2a1"/>
<path d="M632.16,356.60 C632.16,365.60 635.40,368.84 641.40,368.84 L663.60,368.84 C669.60,368.84 672.72,365.60 672.72,356.60 C670.80,365.00 667.20,366.80 662.40,366.80 L642.00,366.80 C636.00,366.80 633.60,363.80 632.16,356.60 Z" fill="#45b595"/>
<ellipse cx="652.44" cy="348.44" rx="20.28" ry="2.28" fill="#3aa989"/>
<ellipse cx="652.44" cy="348.68" rx="18.24" ry="1.32" fill="#ffffff"/>
<path d="M633.84,356.84 L639.60,356.84" stroke="#7fd6bd" stroke-width="1" fill="none"/>
</g>
<circle cx="657.5" cy="351.8" r="35.6" fill="none" stroke="#a348c4" stroke-width="1.8"/>
<circle cx="679.2" cy="329.6" r="8.6" fill="#fff"/>
<circle cx="679.2" cy="329.6" r="7.6" fill="#a347c3"/>
<path d="M679.2,324.0 L679.2,329.6 L684.8000000000001,329.6" fill="none" stroke="#fff" stroke-width="1.5"/>
<path d="M672.2,329.6 h2.4 M679.2,336.6 v-2.4 M674.2,324.6 l1.2,1.2 M684.2,334.6 l-1.2,-1.2 M674.2,334.6 l1.2,-1.2" fill="none" stroke="#fff" stroke-width="0.7"/>
<circle cx="619.7" cy="339.1" r="10.1" fill="#a441c6"/>
<path transform="translate(619.7,339.1)" d="M-5.1,-4.2 C-3.5,-7.6 3.5,-8.2 3.8,-3.6 C4,-0.5 -1,3 -4.2,6.6 L5.4,6.3" fill="none" stroke="#ffe000" stroke-width="2.5" stroke-linejoin="round" stroke-linecap="round"/>
<text x="700.50" y="350.70" font-size="20.5" fill="#ad56ca" textLength="132.40" lengthAdjust="spacingAndGlyphs">Hierve agua potable y</text>
<text x="700.10" y="371.80" font-size="20.5" fill="#ad56ca" textLength="87.40" lengthAdjust="spacingAndGlyphs">déjala entibiar.</text>
<rect x="625.2" y="419" width="229.4" height="81" rx="5.5" fill="#fdeea6"/>
<rect x="627.4" y="421.2" width="225" height="76.6" rx="3.2" fill="#ae4cc8"/>
<circle cx="637.9" cy="411.3" r="10.1" fill="#a441c6"/>
<path transform="translate(637.9,411.3)" d="M-5.6,-5.6 L3.4,-6.5 L-2,0.1 C1.9,-1.1 5.5,1.3 4.6,4.9 C3.7,8.5 -1.7,8.5 -4.7,6.4" fill="none" stroke="#ffe000" stroke-width="2.5" stroke-linejoin="round" stroke-linecap="round"/>
<text x="651.20" y="415.80" font-size="20.5" fill="#ad56ca" textLength="38.40" lengthAdjust="spacingAndGlyphs">Añade</text>
<path d="M635.95,428.93 C635.10,426.80 637.23,425.27 640.20,425.78 C647.00,426.80 657.20,429.78 665.70,433.60 C672.50,436.58 678.45,440.40 683.13,444.23 L684.40,448.05 C681.00,446.35 677.60,444.82 674.20,443.12 C667.40,439.98 658.05,437.00 651.25,435.13 C646.15,433.60 640.20,431.90 637.65,430.63 C636.63,430.20 636.12,429.52 635.95,428.93 Z" fill="#c4c9c2"/>
<path d="M635.95,428.50 C635.27,426.63 637.23,425.10 640.20,425.61 C647.00,426.63 657.20,429.52 665.70,433.35 C672.50,436.32 678.45,440.06 683.13,443.80 L683.38,446.52 C680.15,444.82 677.60,443.80 674.20,442.10 C667.40,438.87 658.05,436.15 651.25,434.28 C646.15,432.75 640.20,431.22 637.82,430.20 C636.63,429.69 636.12,429.18 635.95,428.50 Z" fill="#f6f6f2"/>
<path d="M681.43,445.50 C681.85,442.95 685.25,442.27 689.50,440.83 C693.75,439.38 698.00,439.38 700.55,442.27 C703.95,445.50 706.93,449.33 707.35,452.30 C707.78,455.70 703.95,457.23 698.85,456.72 C692.05,456.04 685.25,452.73 682.70,449.33 C681.68,448.05 681.17,446.78 681.43,445.50 Z" fill="#c9cdc8"/>
<path d="M681.68,445.16 C682.02,442.78 685.25,442.10 689.50,440.66 C693.75,439.21 698.00,439.21 700.55,441.93 C703.95,445.16 706.67,448.90 707.01,451.62 C707.18,454.43 703.27,455.53 698.43,454.85 C692.05,454.00 685.68,451.28 683.13,448.39 C682.02,447.20 681.51,446.18 681.68,445.16 Z" fill="#f1f2ee"/>
<path d="M684.40,444.65 C686.10,442.27 691.20,440.40 695.45,440.06 C698.43,440.06 700.13,442.27 702.25,444.65 C704.80,447.63 706.08,449.75 705.65,451.62 C702.25,453.15 696.30,452.30 691.20,450.18 C687.80,448.73 684.83,446.78 684.40,444.65 Z" fill="#ffffff"/>
<path d="M781.00,427.80 C776.10,426.75 770.50,427.80 768.96,432.00 C767.35,436.90 771.90,443.90 778.90,446.84 M812.15,429.76 C816.70,429.55 821.60,432.00 822.44,436.90 C823.00,441.80 819.50,446.70 811.45,449.50" fill="none" stroke="#ece2f3" stroke-width="1.5" stroke-linecap="round"/>
<path d="M780.30,431.65 L811.94,432.35 C811.45,439.00 809.70,447.40 804.80,454.75 L784.15,454.05 C781.00,447.40 780.16,439.00 780.30,431.65 Z" fill="#d6edf9"/>
<path d="M781.00,432.84 L811.45,433.54 L811.10,435.85 L781.00,435.15 Z" fill="#8edcf2"/>
<path d="M783.45,433.05 L788.00,433.19 L789.05,453.00 L784.50,453.00 C783.10,447.40 782.75,439.00 783.45,433.05 Z M804.80,433.54 L808.65,433.61 C808.30,440.40 806.90,448.10 803.75,453.35 L800.95,453.35 C803.75,447.40 804.80,440.40 804.80,433.54 Z" fill="#eef8fd"/>
<path d="M784.15,452.65 L805.36,453.35 L803.75,457.20 L785.20,456.85 Z" fill="#f6e06a"/>
<ellipse cx="794.09" cy="458.60" rx="15.75" ry="2.52" fill="#ffd800"/>
<path d="M780.65,427.24 L811.66,428.36 L811.52,432.84 L780.51,432.00 Z" fill="#fad400"/>
<path d="M784.15,428.50 L788.00,428.64 L788.00,432.00 L784.15,431.86 Z M804.80,429.20 L808.44,429.34 L808.44,432.70 L804.80,432.56 Z" fill="#fbe98a"/>
<path d="M781.00,424.16 L812.29,425.35 L812.29,428.85 L781.00,427.52 Z" fill="#d4a22a"/>
<rect x="651" y="441.2" width="14.8" height="17" rx="2" fill="#7540b4"/>
<text x="652.80" y="456.90" font-size="20.5" fill="#fdf1b0" stroke="#fdf1b0" stroke-width="0.3" textLength="10.00" lengthAdjust="spacingAndGlyphs">4</text>
<text x="635.30" y="474.30" font-size="19" fill="#fbe3a0" stroke="#fbe3a0" stroke-width="0.45" textLength="79.60" lengthAdjust="spacingAndGlyphs">Cucharadas soperas</text>
<text x="642.75" y="491.90" font-size="19" fill="#fbe3a0" stroke="#fbe3a0" stroke-width="0.45" textLength="50.40" lengthAdjust="spacingAndGlyphs">(36 g aprox.)</text>
<rect x="716.9" y="448.5" width="39.5" height="9.2" rx="4.6" fill="#fbee9f"/>
<rect x="731.2" y="434" width="10.4" height="38.7" rx="5.2" fill="#fbee9f"/>
<text x="733.10" y="490.60" font-size="17" fill="#fbe3a0" stroke="#fbe3a0" stroke-width="0.45" textLength="5.50" lengthAdjust="spacingAndGlyphs">a</text>
<rect x="755.7" y="465.2" width="52.6" height="17.6" rx="1.8" fill="#6e40b5"/>
<text x="757.00" y="481.70" font-size="20" fill="#fdf2ac" stroke="#fdf2ac" stroke-width="0.9" textLength="51.00" lengthAdjust="spacingAndGlyphs">210 ml</text>
<text x="811.00" y="481.70" font-size="19.5" fill="#fbe3a0" stroke="#fbe3a0" stroke-width="0.2" textLength="35.30" lengthAdjust="spacingAndGlyphs">de agua.</text>
<text x="768.90" y="494.20" font-size="12.4" fill="#f8d6b0" stroke="#f8d6b0" stroke-width="0.15" textLength="31.20" lengthAdjust="spacingAndGlyphs">(7,1 oz)</text>
<clipPath id="c4"><circle cx="657.7" cy="546.4" r="36.6"/></clipPath>
<circle cx="657.7" cy="546.4" r="36.6" fill="#fdf2c6"/>
<g clip-path="url(#c4)">
<path d="M638.40,549.00 C631.20,547.80 624.00,550.20 622.20,555.00 M679.80,552.60 C685.20,552.00 690.00,553.80 693.00,557.40" fill="none" stroke="#d9d9e2" stroke-width="1.8"/>
<path d="M665.20,526.60 L670.00,527.80 L665.60,545.60 L660.80,544.60 Z" fill="#8c8896"/>
<path d="M638.16,554.40 L678.00,554.40 L675.36,586.20 L640.80,586.20 Z" fill="#d3eaf6"/>
<path d="M638.40,555.96 L678.00,556.44 L677.76,559.80 L669.00,560.40 L638.64,558.84 Z" fill="#7fd4ee"/>
<path d="M641.40,559.80 L646.20,559.80 L647.40,581.40 L643.20,581.40 Z M672.00,560.40 L675.84,560.40 L674.64,579.00 L671.76,579.00 Z" fill="#e8f4fb"/>
<path d="M638.16,554.04 L678.00,554.52 L678.00,556.20 L638.16,555.72 Z" fill="#f6f6f2"/>
<path d="M638.16,547.80 L678.00,549.96 L678.00,555.00 L638.16,554.40 Z" fill="#f7d000"/>
<path d="M642.60,550.44 L648.00,550.68 L648.00,553.20 L642.60,553.08 Z M670.20,552.00 L675.00,552.24 L675.00,554.28 L670.20,554.16 Z" fill="#f4e08a"/>
<path d="M638.16,543.60 L679.80,546.36 L679.80,550.44 L638.16,548.40 Z" fill="#c9922e"/>
</g>
<path d="M672.00,535.20 C671.88,532.80 670.60,531.40 669.00,531.20 M663.80,531.28 L658.40,531.88 M653.60,535.40 C654.00,538.00 657.00,540.00 661.80,540.40 C665.80,540.60 669.80,540.20 673.20,539.80" fill="none" stroke="#b259d8" stroke-width="1.7" stroke-linecap="round"/>
<path d="M659.72,529.12 L656.92,532.00 L659.88,533.92 M670.28,537.28 L673.72,539.68 L671.08,543.52" fill="none" stroke="#b259d8" stroke-width="1.7" stroke-linecap="round" stroke-linejoin="round"/>
<circle cx="657.7" cy="546.4" r="36.6" fill="none" stroke="#a348c4" stroke-width="1.8"/>
<circle cx="619.7" cy="533.1" r="10.1" fill="#a441c6"/>
<path transform="translate(619.7,533.1)" d="M0.9,-6.9 L-6.6,3.9 L4.8,3.3 M0.9,-6.9 L2.7,6.9" fill="none" stroke="#ffe000" stroke-width="2.5" stroke-linejoin="round" stroke-linecap="round"/>
<text x="700.50" y="542.00" font-size="20.5" fill="#ad56ca" textLength="141.00" lengthAdjust="spacingAndGlyphs">Revuelve hasta disolver</text>
<text x="700.10" y="561.40" font-size="20.5" fill="#ad56ca" textLength="136.50" lengthAdjust="spacingAndGlyphs">el polvo por completo.</text>
<clipPath id="c5"><circle cx="657.4" cy="635.2" r="37.4"/></clipPath>
<circle cx="657.4" cy="635.2" r="37.4" fill="#fdf2c8"/>
<g clip-path="url(#c5)">
<path d="M612.00,655.80 L698.40,655.80 L698.40,676.20 L612.00,676.20 Z" fill="#70b6ad"/>
<path d="M638.16,629.64 L638.16,660.60 C638.16,663.60 645.60,665.16 654.96,665.16 C664.32,665.16 671.76,663.60 671.76,660.60 L671.76,629.64 Z" fill="#ffd600"/>
<ellipse cx="654.96" cy="629.64" rx="17.04" ry="5.28" fill="#b862d6"/>
<ellipse cx="654.96" cy="628.92" rx="16.56" ry="4.32" fill="#c170dc"/>
</g>
<path d="M654.72,593.64 L654.72,618.36 M651.84,612.84 L654.72,618.60 L657.60,612.84" fill="none" stroke="#b565d2" stroke-width="1.3" stroke-linecap="round" stroke-linejoin="round"/>
<circle cx="657.4" cy="635.2" r="37.4" fill="none" stroke="#a348c4" stroke-width="1.8"/>
<circle cx="619.7" cy="621.8" r="10.1" fill="#a441c6"/>
<path transform="translate(619.7,621.8)" d="M3.6,-6.75 L-3.9,-6.15 L-3.6,0.15 C-1.2,-1.05 2.7,-1.35 4.8,1.95 C6,5.55 2.1,7.95 -4.2,5.85" fill="none" stroke="#ffe000" stroke-width="2.5" stroke-linejoin="round" stroke-linecap="round"/>
<text x="700.10" y="622.70" font-size="20.5" fill="#ad56ca" textLength="118.40" lengthAdjust="spacingAndGlyphs">Cierra y conserva el</text>
<text x="700.10" y="642.90" font-size="20.5" fill="#ad56ca" textLength="113.30" lengthAdjust="spacingAndGlyphs">envase en un lugar</text>
<text x="700.10" y="662.20" font-size="20.5" fill="#ad56ca" textLength="81.30" lengthAdjust="spacingAndGlyphs">fresco y seco.</text>
<text x="595.90" y="733.90" font-size="16.8" fill="#1f5f33" font-weight="bold" stroke="#1f5f33" stroke-width="0.6" textLength="122.20" lengthAdjust="spacingAndGlyphs">AVISO IMPORTANTE:</text>
<text x="721.40" y="733.80" font-size="16.8" fill="#2c6a3d" stroke="#2c6a3d" stroke-width="0.25" textLength="132.20" lengthAdjust="spacingAndGlyphs">Prepara sólo un vaso cada vez.</text>
<text x="595.80" y="754.70" font-size="16.8" fill="#2c6a3d" stroke="#2c6a3d" stroke-width="0.25" textLength="265.60" lengthAdjust="spacingAndGlyphs">Dalo inmediatamente. No guardes el resto. Para mantener el</text>
<text x="595.80" y="775.50" font-size="16.8" fill="#2c6a3d" stroke="#2c6a3d" stroke-width="0.25" textLength="267.70" lengthAdjust="spacingAndGlyphs">número de cultivos probióticos vivos, el agua potable hervida</text>
<text x="595.80" y="796.30" font-size="16.8" fill="#2c6a3d" stroke="#2c6a3d" stroke-width="0.25" textLength="255.70" lengthAdjust="spacingAndGlyphs">debe estar a la temperatura del cuerpo antes de agregar el</text>
<text x="595.80" y="817.10" font-size="16.8" fill="#2c6a3d" stroke="#2c6a3d" stroke-width="0.25" textLength="235.60" lengthAdjust="spacingAndGlyphs">polvo. El almacenamiento prolongado y temperaturas</text>
<text x="595.80" y="837.90" font-size="16.8" fill="#2c6a3d" stroke="#2c6a3d" stroke-width="0.25" textLength="237.10" lengthAdjust="spacingAndGlyphs">excesivas deben evitarse. No se debe de administrar el</text>
<text x="595.80" y="858.70" font-size="16.8" fill="#2c6a3d" stroke="#2c6a3d" stroke-width="0.25" textLength="263.20" lengthAdjust="spacingAndGlyphs">contenido de este envase un mes después de abierto. Si este</text>
<text x="595.80" y="879.50" font-size="16.8" fill="#2c6a3d" stroke="#2c6a3d" stroke-width="0.25" textLength="266.20" lengthAdjust="spacingAndGlyphs">producto cambia de color, olor o apariencia debe desecharse.</text>
</svg>
</body></html>
